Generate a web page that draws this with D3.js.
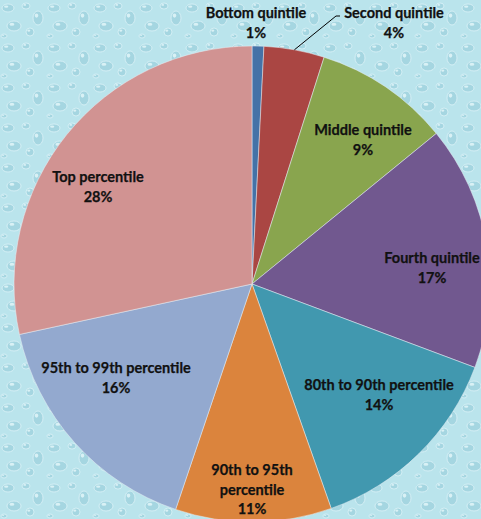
<!DOCTYPE html>
<html>
<head>
<meta charset="utf-8">
<script src="https://cdn.jsdelivr.net/npm/d3@7"></script>
<style>
  html, body { margin: 0; padding: 0; background: #bae4ec; }
  svg { display: block; }
</style>
</head>
<body>
<div id="chart"></div>
<script>
// shares of total income (percent)
const groups = ['Bottom quintile', 'Second quintile', 'Middle quintile', 'Fourth quintile',
                '80th to 90th percentile', '90th to 95th percentile', '95th to 99th percentile', 'Top percentile']
const shares = [0.8, 4.1, 9.2, 16.6, 13.9, 10.6, 16.4, 28.4]
const colors = ['#4572a7', '#aa4643', '#89a54e', '#71588f', '#4198af', '#db843d', '#93a9cf', '#d19392']

// label lines for each slice (text only)
const labelLines = [
    ['Bottom quintile'], ['Second quintile'], ['Middle quintile'], ['Fourth quintile'],
    ['80th to 90th percentile'], ['90th to 95th', 'percentile'], ['95th to 99th percentile'], ['Top percentile']
]

const width = 481, height = 519
const cx = 252, cy = 284, radius = 238

const svg = d3.select('#chart').append('svg')
    .attr('width', width)
    .attr('height', height)

// water-drop backdrop
const defs = svg.append('defs')
const pat = defs.append('pattern')
    .attr('id', 'drops')
    .attr('width', 46).attr('height', 40)
    .attr('patternUnits', 'userSpaceOnUse')
pat.append('rect').attr('width', 46).attr('height', 40).attr('fill', '#bae4ec')
const drops = [[8, 8, 6, 4], [26, 6, 4, 3], [38, 18, 5, 7], [14, 26, 7, 5], [30, 32, 4, 4], [4, 36, 3, 2]]
drops.forEach(d => {
    pat.append('ellipse').attr('cx', d[0]).attr('cy', d[1]).attr('rx', d[2]).attr('ry', d[3])
        .attr('fill', '#a5d6e1').attr('stroke', '#dcf3f7').attr('stroke-width', 0.8)
    pat.append('ellipse').attr('cx', d[0] - d[2] * 0.3).attr('cy', d[1] - d[3] * 0.35)
        .attr('rx', d[2] * 0.35).attr('ry', d[3] * 0.3).attr('fill', '#e6f7fa').attr('opacity', 0.8)
})
svg.append('rect').attr('width', width).attr('height', height).attr('fill', 'url(#drops)')

const pie = d3.pie().sort(null).value(d => d)
const arcs = pie(shares)

const arc = d3.arc().innerRadius(0).outerRadius(radius)

const g = svg.append('g').attr('transform', `translate(${cx},${cy})`)

g.selectAll('path')
    .data(arcs)
    .enter()
    .append('path')
        .attr('d', arc)
        .attr('fill', (d, i) => colors[i])
        .attr('stroke', '#e8eef5')
        .attr('stroke-width', 0.5)

// label anchor positions (x centre, first baseline) in page pixels
const labelPos = [[256, 18], [394, 18], [363, 135], [432, 263], [379, 390], [252, 475], [116, 373], [98, 182]]

// leader line for the second quintile
const a2 = (arcs[1].startAngle + arcs[1].endAngle) / 2
svg.append('polyline')
    .attr('points', `${labelPos[1][0] - 54},${labelPos[1][1] - 2} ${labelPos[1][0] - 58},${labelPos[1][1] - 2} ${cx + Math.sin(a2) * radius},${cy - Math.cos(a2) * radius}`)
    .attr('fill', 'none')
    .attr('stroke', '#000')
    .attr('stroke-width', 1)

const fmt = d3.format('.0f')

svg.selectAll('.lab')
    .data(arcs)
    .enter()
    .append('text')
        .attr('class', 'lab')
        .attr('text-anchor', 'middle')
        .attr('font-family', 'Lato, "Open Sans", sans-serif')
        .attr('font-weight', 'bold')
        .attr('font-size', 14.5)
        .attr('fill', '#111')
        .attr('stroke', '#111')
        .attr('stroke-width', 0.25)
        .each(function(d, i){
            const t = d3.select(this)
            const lines = labelLines[i].concat([fmt(d.data) + '%'])
            lines.forEach((l, j) => {
                t.append('tspan')
                    .attr('x', labelPos[i][0])
                    .attr('y', labelPos[i][1] + j * 19.5)
                    .text(l)
            })
        })
</script>
</body>
</html>
